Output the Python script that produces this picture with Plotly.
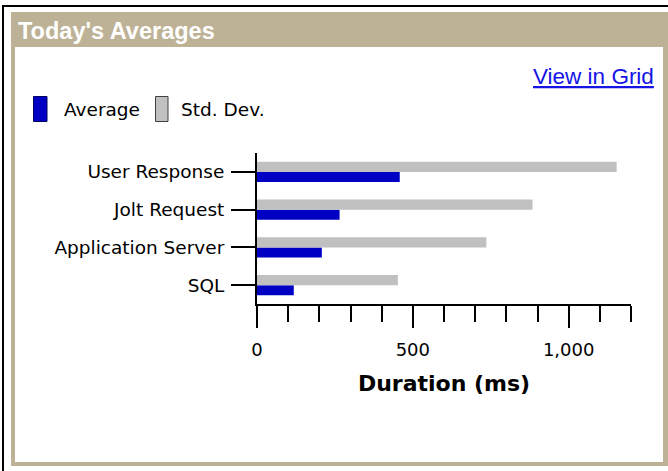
import plotly.graph_objects as go

# ---- data ----
categories = ["User Response", "Jolt Request", "Application Server", "SQL"]  # top -> bottom
average_ms = [458, 265, 208, 118]
stddev_ms = [1154, 884, 736, 452]
series_names = ["Average", "Std. Dev."]
x_tick_values = [0, 500, 1000]
x_tick_labels = ["0", "500", "1,000"]
header_title = "Today's Averages"
link_text = "View in Grid"
axis_title = "Duration (ms)"

# ---- styling ----
W, H = 668, 471
L, R, T, B = 257, 37, 153, 167
PW, PH = W - L - R, H - T - B
BLUE = "#0000c4"
GRAY = "#c0c0c0"
TAN = "#bdb296"
FONT = "DejaVu Sans"


def px(x):
    return (x - L) / PW


def py(y):
    return (H - B - y) / PH


fig = go.Figure()
fig.add_trace(go.Bar(y=categories, x=average_ms, orientation="h", name=series_names[0],
                     marker=dict(color=BLUE, line=dict(width=0))))
fig.add_trace(go.Bar(y=categories, x=stddev_ms, orientation="h", name=series_names[1],
                     marker=dict(color=GRAY, line=dict(width=0))))

shapes = [
    # outer black frame lines
    dict(type="line", xref="paper", yref="paper", x0=px(3), x1=px(3), y0=py(5), y1=py(471),
         line=dict(color="black", width=2), layer="below"),
    dict(type="line", xref="paper", yref="paper", x0=px(3), x1=px(668), y0=py(6), y1=py(6),
         line=dict(color="black", width=2), layer="below"),
    # tan panel
    dict(type="rect", xref="paper", yref="paper", x0=px(11), x1=px(670), y0=py(12), y1=py(466),
         fillcolor=TAN, line=dict(width=0), layer="below"),
    # white content
    dict(type="rect", xref="paper", yref="paper", x0=px(15), x1=px(663), y0=py(47), y1=py(462),
         fillcolor="white", line=dict(width=0), layer="below"),
    # legend boxes
    dict(type="rect", xref="paper", yref="paper", x0=px(33.5), x1=px(47), y0=py(96.5), y1=py(121.5),
         fillcolor=BLUE, line=dict(color="#000060", width=1), layer="above"),
    dict(type="rect", xref="paper", yref="paper", x0=px(155.5), x1=px(168), y0=py(96.5), y1=py(121.5),
         fillcolor=GRAY, line=dict(color="#404040", width=1), layer="above"),
]

annotations = [
    dict(text="<b>" + header_title + "</b>", xref="paper", yref="paper", x=px(16), y=py(31),
         xanchor="left", yanchor="middle", showarrow=False,
         font=dict(family="Liberation Sans", size=23.5, color="white")),
    dict(text="<u>" + link_text + "</u>", xref="paper", yref="paper", x=px(656), y=py(76),
         xanchor="right", yanchor="middle", showarrow=False,
         font=dict(family="Liberation Sans", size=22.5, color="#1414e6")),
    dict(text=series_names[0], xref="paper", yref="paper", x=px(61.5), y=py(109),
         xanchor="left", yanchor="middle", showarrow=False,
         font=dict(family=FONT, size=18.5, color="black")),
    dict(text=series_names[1], xref="paper", yref="paper", x=px(178.5), y=py(109),
         xanchor="left", yanchor="middle", showarrow=False,
         font=dict(family=FONT, size=18.5, color="black")),
]

fig.update_layout(
    width=W, height=H,
    margin=dict(l=L, r=R, t=T, b=B, autoexpand=False),
    paper_bgcolor="white", plot_bgcolor="white",
    barmode="group", bargap=0.47, bargroupgap=0,
    showlegend=False,
    shapes=shapes, annotations=annotations,
    font=dict(family=FONT, color="black"),
    xaxis=dict(
        range=[0, 1200], showgrid=False, zeroline=False,
        showline=True, linecolor="black", linewidth=2,
        ticks="outside", ticklen=22, tickwidth=2, tickcolor="black",
        tickvals=x_tick_values, ticktext=x_tick_labels,
        tickfont=dict(family=FONT, size=18, color="black"),
        ticklabelstandoff=6,
        minor=dict(dtick=100, tick0=0, ticks="outside", ticklen=16, tickwidth=2, tickcolor="black",
                   showgrid=False),
        title=dict(text="<b>" + axis_title + "</b>", standoff=17,
                   font=dict(family=FONT, size=22, color="black")),
        automargin=False, fixedrange=True,
    ),
    yaxis=dict(
        categoryorder="array", categoryarray=list(reversed(categories)),
        range=[-0.5, 3.5], showgrid=False, zeroline=False,
        showline=True, linecolor="black", linewidth=2,
        ticks="outside", ticklen=24, tickwidth=2, tickcolor="black",
        tickfont=dict(family=FONT, size=18.5, color="black"),
        ticklabelstandoff=3,
        automargin=False, fixedrange=True,
    ),
)

fig.write_html("out.html", config={"displayModeBar": False},
               post_script="document.body.style.margin='0';")
